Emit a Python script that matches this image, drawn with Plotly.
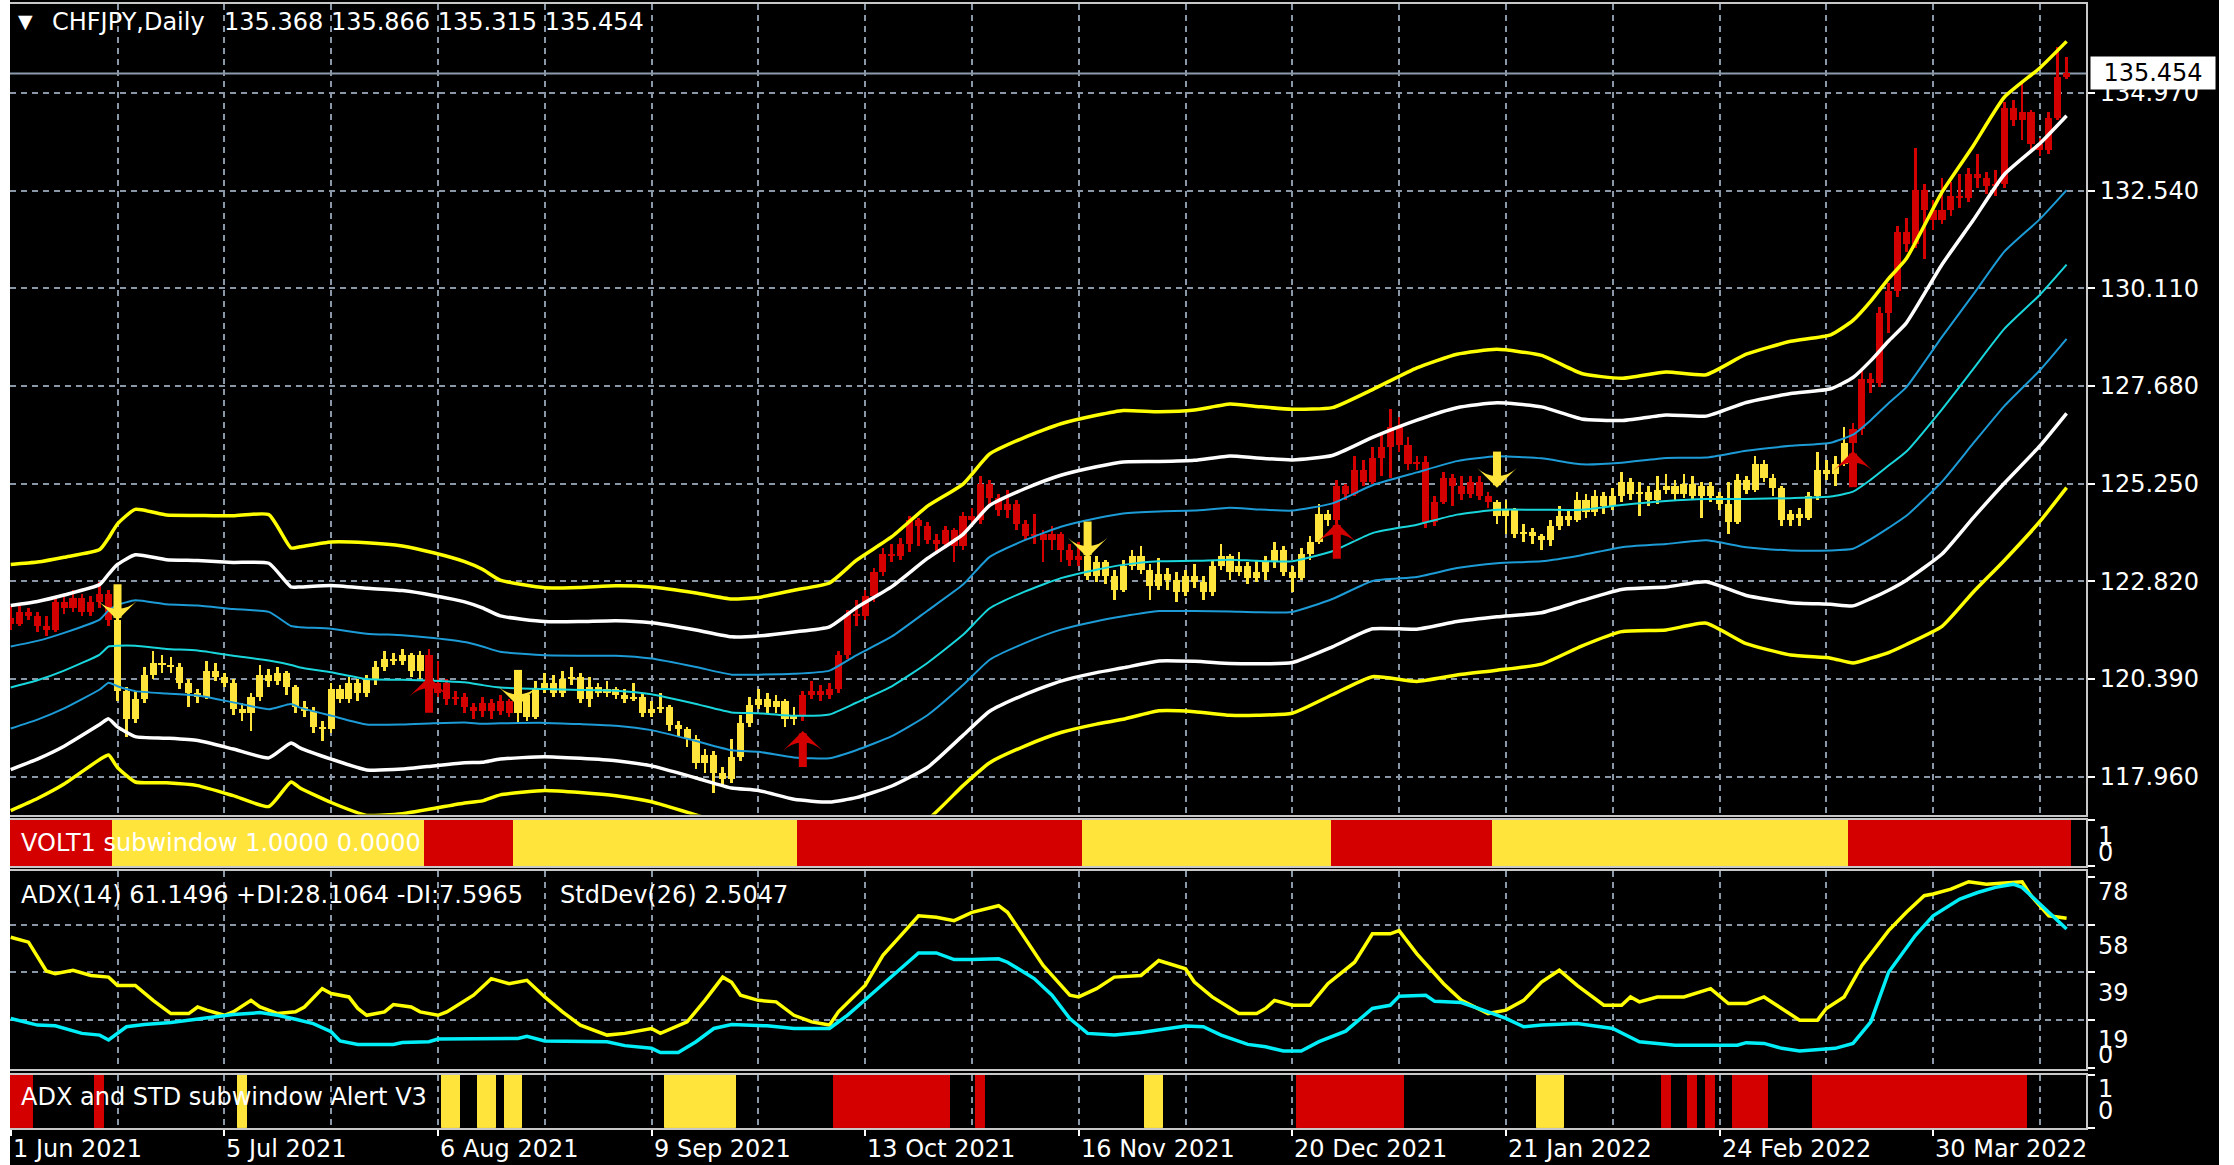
"""
CHFJPY daily chart in the MetaTrader style: candles coloured by the VOLT1 state,
seven envelope bands, a VOLT1 strip, ADX / StdDev lines and an alert strip.
"""

import plotly.graph_objects as go
from plotly.subplots import make_subplots

# ---------------------------------------------------------------- data ----
DATE_TICKS = [0, 24, 48, 72, 96, 120, 144, 168, 192, 216]
DATE_LABELS = ["1 Jun 2021", "5 Jul 2021", "6 Aug 2021", "9 Sep 2021", "13 Oct 2021",
               "16 Nov 2021", "20 Dec 2021", "21 Jan 2022", "24 Feb 2022", "30 Mar 2022"]
PRICE_TICKS = [117.96, 120.39, 122.82, 125.25, 127.68, 130.11, 132.54, 134.97]

FIRST_OPEN = 121.90
CLOSE = [
    121.75, 122.05, 121.95, 121.70, 121.60, 122.30, 122.15, 122.40, 122.05, 122.30,
    122.50, 121.85, 120.10, 119.40, 119.90, 120.50, 120.80, 120.75, 120.70, 120.30,
    120.05, 119.95, 120.60, 120.45, 120.30, 119.65, 119.55, 119.95, 120.50, 120.35,
    120.55, 120.20, 119.70, 119.60, 119.20, 119.15, 120.15, 119.90, 120.30, 120.05,
    120.40, 120.70, 120.90, 120.85, 121.00, 120.60, 121.00, 120.05, 120.30, 119.90,
    119.95, 119.70, 119.60, 119.80, 119.60, 119.85, 119.55, 120.00, 119.45, 120.15,
    120.30, 120.05, 120.40, 120.45, 119.90, 120.20, 120.05, 120.15, 120.00, 119.90,
    119.95, 119.55, 119.65, 119.70, 119.25, 119.15, 118.90, 118.30, 118.50, 118.05,
    117.90, 118.45, 119.30, 119.75, 119.90, 119.70, 119.85, 119.40, 119.50, 120.00,
    120.10, 120.00, 120.15, 121.00, 122.00, 121.95, 122.45, 123.05, 123.50, 123.45,
    123.75, 124.35, 124.20, 123.85, 123.75, 124.10, 123.70, 124.45, 124.35, 125.25,
    124.90, 124.60, 124.75, 124.25, 123.95, 124.00, 123.85, 124.00, 123.60, 123.35,
    123.45, 122.95, 123.30, 122.95, 122.60, 123.20, 123.45, 123.10, 122.70, 123.00,
    122.85, 122.55, 122.95, 122.80, 122.55, 123.20, 123.45, 123.05, 123.20, 122.90,
    123.05, 123.30, 123.60, 123.05, 122.90, 123.50, 123.80, 124.50, 124.35, 125.20,
    125.00, 125.60, 125.30, 125.90, 126.15, 126.65, 126.20, 125.75, 125.80, 124.30,
    124.80, 125.40, 125.20, 125.00, 125.30, 124.95, 124.80, 124.45, 124.60, 124.00,
    124.05, 123.95, 123.85, 124.20, 124.45, 124.35, 124.85, 124.55, 124.95, 124.70,
    124.95, 125.30, 125.00, 125.05, 124.85, 125.10, 125.20, 125.00, 125.25, 124.95,
    125.20, 124.95, 124.75, 124.30, 125.35, 125.10, 125.75, 125.40, 125.15, 124.35,
    124.50, 124.40, 124.95, 125.60, 125.50, 125.75, 126.25, 126.60, 127.85, 127.75,
    129.50, 130.05, 131.50, 131.20, 132.55, 132.05, 131.80, 132.05, 132.40, 132.35,
    132.95, 132.85, 132.65, 132.70, 134.60, 134.30, 134.50, 133.70, 133.55, 134.35,
    135.37, 135.454,
]
HIGH = [
    122.20, 122.20, 122.15, 122.05, 121.95, 122.45, 122.45, 122.60, 122.50, 122.45,
    122.80, 122.60, 122.55, 120.20, 120.10, 120.70, 121.10, 121.00, 120.95, 120.80,
    120.40, 120.15, 120.85, 120.80, 120.55, 120.40, 119.80, 120.05, 120.75, 120.65,
    120.70, 120.60, 120.25, 119.85, 119.70, 119.35, 120.30, 120.25, 120.45, 120.40,
    120.50, 120.85, 121.10, 121.05, 121.15, 121.05, 121.10, 121.15, 120.85, 120.40,
    120.10, 120.05, 119.80, 119.95, 119.90, 120.00, 119.90, 120.15, 120.05, 120.35,
    120.55, 120.50, 120.60, 120.70, 120.55, 120.45, 120.30, 120.35, 120.20, 120.15,
    120.30, 120.05, 119.85, 120.05, 119.75, 119.35, 119.20, 119.00, 118.65, 118.60,
    118.20, 118.90, 119.50, 119.95, 120.15, 120.05, 120.00, 119.90, 119.70, 120.10,
    120.35, 120.25, 120.30, 121.10, 122.10, 122.35, 122.60, 123.15, 123.65, 123.75,
    123.90, 124.45, 124.40, 124.30, 124.00, 124.20, 124.15, 124.55, 124.65, 125.45,
    125.35, 125.00, 125.10, 124.85, 124.35, 124.50, 124.10, 124.20, 124.05, 123.75,
    123.80, 123.55, 123.45, 123.35, 123.10, 123.35, 123.60, 123.70, 123.25, 123.40,
    123.15, 123.05, 123.10, 123.25, 122.95, 123.35, 123.75, 123.50, 123.55, 123.30,
    123.35, 123.45, 123.80, 123.70, 123.20, 123.65, 123.95, 124.75, 124.60, 125.35,
    125.25, 125.95, 125.85, 126.15, 126.45, 127.10, 126.90, 126.40, 125.95, 125.95,
    124.95, 125.55, 125.50, 125.45, 125.45, 125.45, 125.05, 124.85, 124.85, 124.65,
    124.25, 124.15, 124.00, 124.35, 124.70, 124.60, 125.05, 125.00, 125.10, 125.05,
    125.15, 125.55, 125.40, 125.30, 125.20, 125.45, 125.50, 125.35, 125.50, 125.45,
    125.30, 125.30, 125.05, 125.30, 125.50, 125.45, 125.95, 125.85, 125.50, 125.20,
    124.60, 124.65, 125.05, 126.05, 125.85, 125.95, 126.65, 126.75, 128.10, 128.00,
    129.65, 130.25, 131.65, 131.85, 133.60, 132.70, 132.30, 132.85, 132.75, 132.95,
    133.10, 133.45, 133.00, 133.05, 134.75, 134.80, 135.25, 134.55, 133.85, 134.50,
    136.10, 135.866,
]
LOW = [
    121.60, 121.70, 121.85, 121.55, 121.45, 121.55, 122.00, 122.05, 121.95, 121.95,
    122.15, 121.70, 119.85, 118.95, 119.30, 119.80, 120.40, 120.55, 120.55, 120.15,
    119.70, 119.80, 119.90, 120.35, 120.20, 119.50, 119.35, 119.10, 119.85, 120.20,
    120.25, 120.00, 119.55, 119.45, 119.05, 118.85, 119.05, 119.80, 119.80, 119.85,
    119.95, 120.25, 120.60, 120.75, 120.75, 120.45, 120.40, 119.95, 119.95, 119.75,
    119.75, 119.55, 119.40, 119.45, 119.40, 119.50, 119.45, 119.30, 119.35, 119.40,
    120.05, 119.95, 119.95, 120.25, 119.80, 119.70, 119.95, 119.95, 119.90, 119.80,
    119.85, 119.45, 119.45, 119.55, 119.10, 118.95, 118.70, 118.15, 118.05, 117.55,
    117.75, 117.80, 118.35, 119.20, 119.65, 119.55, 119.55, 119.20, 119.25, 119.35,
    119.90, 119.85, 119.90, 120.05, 120.90, 121.70, 121.85, 122.30, 122.95, 123.30,
    123.35, 123.55, 123.70, 123.75, 123.50, 123.65, 123.30, 123.60, 124.20, 124.25,
    124.70, 124.45, 124.40, 124.10, 123.85, 123.75, 123.30, 123.60, 123.30, 123.20,
    123.20, 122.85, 122.80, 122.75, 122.35, 122.55, 123.10, 123.00, 122.35, 122.60,
    122.60, 122.30, 122.45, 122.65, 122.35, 122.45, 123.10, 122.85, 122.95, 122.75,
    122.80, 122.85, 123.15, 122.95, 122.55, 122.85, 123.35, 123.75, 124.20, 124.25,
    124.85, 124.95, 125.20, 125.25, 125.45, 125.40, 126.05, 125.60, 125.60, 124.15,
    124.20, 124.75, 124.70, 124.85, 124.90, 124.85, 124.65, 124.25, 124.00, 123.90,
    123.80, 123.75, 123.60, 123.70, 124.10, 124.20, 124.30, 124.40, 124.45, 124.50,
    124.60, 124.80, 124.85, 124.45, 124.70, 124.75, 125.00, 124.85, 124.90, 124.85,
    124.40, 124.80, 124.60, 124.00, 124.25, 125.00, 125.05, 125.30, 124.95, 124.20,
    124.20, 124.20, 124.35, 124.85, 125.35, 125.20, 125.70, 126.00, 126.45, 127.50,
    127.65, 129.00, 129.90, 131.00, 131.10, 130.85, 131.55, 131.70, 131.90, 132.10,
    132.25, 132.60, 132.45, 132.40, 132.60, 134.15, 133.80, 133.55, 133.40, 133.45,
    134.30, 135.315,
]
LAST_PRICE = 135.454
OHLC_TEXT = "135.368 135.866 135.315 135.454"

# envelope: centre line and band step, read at sample bars
BAND_X = [0, 3, 6, 10, 11, 12, 14, 17.5, 21, 25, 29, 31.5, 32.5, 36, 40, 44, 47.5, 51, 53, 55,
          60, 64, 68, 72, 77, 81, 84, 88, 92, 95, 99, 103, 107, 110, 114, 118, 122, 125, 129, 133,
          137, 140, 144, 148.5, 153, 158, 162.5, 167, 172, 176.5, 181, 186, 190.5, 195, 200,
          204.5, 207, 209, 211, 213, 217, 220.5, 224, 228, 231]
BAND_MID = [120.18, 120.36, 120.60, 121.00, 121.20, 121.22, 121.22, 121.14, 121.10, 120.97,
            120.85, 120.74, 120.68, 120.56, 120.39, 120.37, 120.35, 120.31, 120.24, 120.18,
            120.14, 120.12, 120.10, 120.01, 119.77, 119.56, 119.54, 119.48, 119.51, 119.80,
            120.21, 120.79, 121.49, 122.15, 122.57, 122.90, 123.11, 123.23, 123.32, 123.33,
            123.36, 123.33, 123.32, 123.57, 124.02, 124.23, 124.48, 124.60, 124.60, 124.60,
            124.72, 124.82, 124.87, 124.87, 124.89, 124.93, 125.05, 125.35, 125.70, 126.05,
            127.10, 128.10, 129.10, 129.95, 130.70]
BAND_W = [1.02, 0.98, 0.94, 0.87, 0.90, 1.01, 1.13, 1.11, 1.12, 1.16,
          1.21, 0.97, 1.00, 1.08, 1.13, 1.11, 1.06, 1.00, 0.96, 0.89,
          0.84, 0.85, 0.87, 0.89, 0.92, 0.94, 0.96, 1.04, 1.09, 1.18,
          1.24, 1.30, 1.25, 1.28, 1.28, 1.28, 1.28, 1.28, 1.24, 1.25,
          1.29, 1.28, 1.26, 1.19, 1.19, 1.30, 1.33, 1.33, 1.28, 1.13,
          1.05, 1.07, 1.03, 1.20, 1.30, 1.34, 1.42, 1.48, 1.55, 1.60,
          1.80, 1.85, 1.92, 1.88, 1.85]

# VOLT1 state runs (first bar of each run)
VOLT_RUN_START = [0, 12, 47, 57, 89, 121, 149, 167, 207]
VOLT_RUN_STATE = ["red", "yellow", "red", "yellow", "red", "yellow", "red", "yellow", "red"]

# alert strip runs (first bar, last bar, colour)
ALERT_START = [0, 10, 26, 49, 53, 56, 74, 93, 109, 128, 145, 172, 186, 189, 191, 194, 203]
ALERT_END = [2, 10, 26, 50, 54, 57, 81, 105, 109, 129, 156, 174, 186, 189, 191, 197, 226]
ALERT_STATE = ["red", "red", "yellow", "yellow", "yellow", "yellow", "yellow", "red", "red",
               "yellow", "red", "yellow", "red", "red", "red", "red", "red"]

# ADX(14) and StdDev(26), read at sample bars
ADX_X = [0, 2, 4, 5, 7, 9, 11, 12, 14, 16, 18, 20, 21, 22, 24, 25, 27, 28, 30, 32,
         33, 35, 36, 38, 39, 40, 42, 43, 45, 46, 48, 49, 52, 54, 56, 58, 60, 62, 64, 67,
         69, 71, 72, 73, 76, 78, 80, 81, 82, 84, 86, 88, 90, 92, 93, 96, 98, 100, 102, 104,
         106, 108, 111, 112, 114, 116, 119, 120, 122, 124, 127, 129, 132, 133, 135, 138, 140,
         141, 142, 144, 146, 148, 151, 153, 155, 156, 158, 161, 163, 166, 168, 170, 172, 174,
         176, 179, 181, 182, 183, 185, 188, 191, 193, 195, 197, 199, 201, 203, 204, 206, 208,
         211, 213, 215, 216, 218, 220, 222, 225, 226, 227, 229, 231]
ADX_Y = [53.3, 51.3, 39.5, 38.4, 39.8, 37.7, 37.0, 33.6, 33.6, 27.5, 22.1, 22.1, 24.8, 23.5,
         21.4, 22.8, 27.5, 24.8, 22.1, 22.8, 24.8, 32.3, 30.3, 28.9, 24.2, 21.4, 22.8, 25.8,
         24.8, 22.8, 21.4, 22.8, 29.6, 36.4, 34.3, 35.7, 28.9, 22.8, 17.4, 13.3, 14.0, 15.3,
         16.0, 14.0, 18.7, 27.5, 37.0, 34.9, 29.6, 27.5, 26.9, 21.4, 18.7, 17.4, 22.8, 33.6,
         45.9, 54.0, 62.1, 61.5, 60.1, 63.5, 66.2, 63.5, 52.6, 41.8, 29.6, 28.9, 32.3, 37.0,
         37.7, 43.8, 40.4, 35.0, 28.9, 22.1, 22.1, 24.2, 27.5, 25.5, 25.5, 34.3, 43.1, 54.7,
         54.7, 56.0, 46.5, 34.3, 27.5, 22.1, 23.5, 27.5, 35.0, 39.8, 33.6, 25.5, 25.5, 28.9,
         26.9, 28.9, 28.9, 32.3, 26.2, 26.2, 28.9, 24.2, 19.4, 19.4, 24.2, 28.9, 41.8, 56.0,
         63.5, 70.3, 71.0, 73.0, 76.0, 75.0, 75.7, 76.0, 70.3, 62.1, 61.1]
STD_X = [0, 3, 5, 8, 10, 11, 13, 15, 18, 20, 23, 25, 28, 30, 32, 34, 36, 37, 39, 43,
         44, 47, 48, 55, 57, 58, 60, 67, 69, 72, 73, 75, 77, 79, 81, 85, 88, 92, 94, 97,
         100, 102, 104, 106, 108, 111, 112, 115, 117, 119, 121, 124, 127, 130, 132, 134, 136,
         139, 141, 143, 145, 147, 150, 153, 155, 156, 159, 160, 163, 166, 168, 170, 172, 176,
         180, 183, 185, 187, 194, 195, 197, 199, 201, 203, 205, 207, 209, 211, 214, 216, 219,
         221, 223, 225, 226, 228, 231]
STD_Y = [20.1, 17.4, 17.1, 14.0, 13.3, 11.3, 16.7, 17.6, 18.5, 19.4, 20.8, 21.7, 22.5, 21.4,
         19.8, 18.0, 14.7, 10.9, 9.5, 9.5, 10.3, 10.6, 11.7, 11.7, 11.9, 12.8, 10.9, 10.6, 9.0,
         7.9, 6.2, 6.2, 10.6, 16.0, 17.6, 17.1, 16.0, 16.0, 21.4, 30.9, 40.4, 46.9, 46.9, 44.2,
         44.2, 44.5, 43.1, 36.4, 29.6, 20.1, 14.0, 13.3, 14.4, 16.0, 17.0, 16.7, 13.3, 9.5, 8.5,
         6.8, 6.8, 10.6, 14.9, 24.2, 25.5, 29.2, 29.6, 27.1, 26.6, 22.8, 20.1, 16.7, 17.4, 18.0,
         16.0, 10.6, 9.9, 9.2, 9.2, 10.2, 9.9, 7.9, 6.8, 7.2, 7.9, 9.9, 18.7, 39.0, 54.0, 62.1,
         68.9, 71.6, 73.7, 75.0, 73.7, 66.9, 56.7]
ADX_TICKS = [19.5, 39, 58.5]
ADX_LABELS = ["78", "58", "39", "19", "0"]

# signal arrows (bar, tip price, direction)
ARROW_X = [12, 47, 57, 89, 121, 149, 167, 207]
ARROW_TIP = [121.85, 120.45, 119.72, 119.10, 123.41, 124.28, 125.15, 126.06]
ARROW_DIR = ["down", "up", "down", "up", "down", "up", "down", "up"]

# ---------------------------------------------------------------- style ---
COLORS = {"red": "#D40000", "yellow": "#FFE53B"}
GRID = "#8A97A6"
FRAME = "#C8C8C8"
FONT = "DejaVu Sans"

W, H = 2234, 1165
LEFT, RIGHT_EDGE = 10, 2086          # plot area columns
TOP, BOTTOM = 2, 1128                # plot area rows


def py(row):
    return (BOTTOM - row) / (BOTTOM - TOP)


def px(col):
    return (col - LEFT) / (RIGHT_EDGE - LEFT)


n = len(CLOSE)
OPEN = [FIRST_OPEN] + CLOSE[:-1]      # daily FX bars open at the prior close

state = []
for k, start in enumerate(VOLT_RUN_START):
    end = VOLT_RUN_START[k + 1] if k + 1 < len(VOLT_RUN_START) else n
    state += [VOLT_RUN_STATE[k]] * (end - start)

fig = make_subplots(rows=4, cols=1, shared_xaxes=True, vertical_spacing=0.004)

# candles: wick bar + body bar, coloured by state (both directions filled alike)
for key in ("yellow", "red"):
    idx = [i for i in range(n) if state[i] == key]
    c = COLORS[key]
    fig.add_trace(go.Bar(
        x=idx, base=[LOW[i] for i in idx], y=[HIGH[i] - LOW[i] for i in idx], width=0.3,
        marker=dict(color=c, line=dict(width=0)), showlegend=False, hoverinfo="skip",
    ), row=1, col=1)
    fig.add_trace(go.Bar(
        x=idx, base=[min(OPEN[i], CLOSE[i]) for i in idx],
        y=[max(abs(CLOSE[i] - OPEN[i]), 0.04) for i in idx], width=0.8,
        marker=dict(color=c, line=dict(width=0)), showlegend=False, hoverinfo="skip",
    ), row=1, col=1)

# envelope lines
band_styles = [(3, "#FFFF00", 3.5), (2, "#FFFFFF", 3.5), (1, "#1C9BD6", 2),
               (0, "#19D6DC", 2), (-1, "#1C9BD6", 2), (-2, "#FFFFFF", 3.5), (-3, "#FFFF00", 3.5)]
for k, color, width in band_styles:
    fig.add_trace(go.Scatter(
        x=BAND_X, y=[m + k * w for m, w in zip(BAND_MID, BAND_W)],
        mode="lines", line=dict(color=color, width=width, shape="spline", smoothing=0.5),
        showlegend=False, hoverinfo="skip",
    ), row=1, col=1)

# arrows: wide head with its tip on the signal price, stem behind it
for d in ("down", "up"):
    ax = [x for x, dd in zip(ARROW_X, ARROW_DIR) if dd == d]
    tips = [t for t, dd in zip(ARROW_TIP, ARROW_DIR) if dd == d]
    color = COLORS["yellow"] if d == "down" else COLORS["red"]
    step = 0.48 if d == "down" else -0.48
    fig.add_trace(go.Scatter(
        x=ax, y=[t + step for t in tips], mode="markers",
        marker=dict(symbol="line-ns", size=24, line=dict(color=color, width=8)),
        showlegend=False, hoverinfo="skip"), row=1, col=1)
    fig.add_trace(go.Scatter(
        x=ax, y=tips, mode="markers",
        marker=dict(symbol="arrow-wide", angle=180 if d == "down" else 0, size=28,
                    color=color, line=dict(width=0)),
        showlegend=False, hoverinfo="skip"), row=1, col=1)

# VOLT1 strip
fig.add_trace(go.Bar(
    x=list(range(n)), y=[1] * n, width=1,
    marker=dict(color=[COLORS[s] for s in state],
                line=dict(color=[COLORS[s] for s in state], width=1)),
    showlegend=False, hoverinfo="skip"), row=2, col=1)

# ADX / StdDev
fig.add_trace(go.Scatter(x=ADX_X, y=ADX_Y, mode="lines",
                         line=dict(color="#FFFF00", width=3.5),
                         showlegend=False, hoverinfo="skip"), row=3, col=1)
fig.add_trace(go.Scatter(x=STD_X, y=STD_Y, mode="lines",
                         line=dict(color="#00EEF8", width=3.5),
                         showlegend=False, hoverinfo="skip"), row=3, col=1)

# alert strip
ax_x, ax_c = [], []
for s, e, st in zip(ALERT_START, ALERT_END, ALERT_STATE):
    for i in range(s, e + 1):
        ax_x.append(i)
        ax_c.append(COLORS[st])
fig.add_trace(go.Bar(
    x=ax_x, y=[1] * len(ax_x), width=1,
    marker=dict(color=ax_c, line=dict(color=ax_c, width=1)),
    showlegend=False, hoverinfo="skip"), row=4, col=1)

# ---------------------------------------------------------------- axes ----
x_common = dict(
    range=[-0.08, 233.18], tickmode="array", tickvals=DATE_TICKS, showticklabels=False,
    showgrid=True, gridcolor=GRID, griddash="6px,5px", gridwidth=1.5,
    minor=dict(tickmode="array", tickvals=[v + 12 for v in DATE_TICKS],
               showgrid=True, gridcolor=GRID, griddash="6px,5px", gridwidth=1.5, ticks=""),
    showline=True, linecolor=FRAME, linewidth=2, mirror=True, zeroline=False,
    rangeslider=dict(visible=False), ticks="",
)
for k in range(1, 5):
    fig.update_xaxes(**x_common, row=k, col=1)
fig.update_xaxes(ticks="outside", ticklen=6, tickwidth=2, tickcolor="#FFFFFF", row=4, col=1)

y_common = dict(side="right", showline=True, linecolor=FRAME, linewidth=2, mirror=True,
                zeroline=False, ticks="outside", ticklen=7, tickwidth=2, tickcolor="#FFFFFF")
fig.update_yaxes(**y_common, domain=[py(814), 1.0], range=[117.02, 137.18],
                 tickmode="array", tickvals=PRICE_TICKS,
                 ticktext=[f"{v:.3f}" for v in PRICE_TICKS],
                 tickfont=dict(size=24, color="#FFFFFF", family=FONT),
                 showgrid=True, gridcolor=GRID, griddash="6px,5px", gridwidth=1.5,
                 row=1, col=1)
fig.update_yaxes(**y_common, domain=[py(866), py(819)], range=[0, 1],
                 tickmode="array", tickvals=[0, 1], showticklabels=False, showgrid=False,
                 row=2, col=1)
fig.update_yaxes(**y_common, domain=[py(1069), py(871)], range=[-0.6, 80.2],
                 tickmode="array", tickvals=ADX_TICKS, showticklabels=False,
                 showgrid=True, gridcolor=GRID, griddash="6px,5px", gridwidth=1.5,
                 minor=dict(tickmode="array", tickvals=[0, 78], ticks="outside", ticklen=7,
                            tickwidth=2, tickcolor="#FFFFFF", showgrid=False),
                 row=3, col=1)
fig.update_yaxes(**y_common, domain=[0.0, py(1075)], range=[0, 1],
                 tickmode="array", tickvals=[0, 1], showticklabels=False, showgrid=False,
                 row=4, col=1)

# bid line
fig.add_shape(type="line", xref="x domain", yref="y", x0=0, x1=1,
              y0=LAST_PRICE, y1=LAST_PRICE, line=dict(color="#8C9BAD", width=2), layer="below")

# white window strips at left and right
for c0, c1 in ((0, LEFT), (2219, W)):
    fig.add_shape(type="rect", xref="paper", yref="paper", x0=px(c0), x1=px(c1),
                  y0=-0.05, y1=1.05, fillcolor="#FFFFFF", line=dict(width=0), layer="above")

# ---------------------------------------------------------------- text ----
def label(text, col, row, size=24, color="#FFFFFF", **kw):
    fig.add_annotation(text=text, x=px(col), y=py(row), xref="paper", yref="paper",
                       showarrow=False, xanchor="left", yanchor="middle",
                       font=dict(family=FONT, size=size, color=color), **kw)


label("▼", 16, 19, size=19)
label("CHFJPY,Daily", 50, 20)
label(OHLC_TEXT, 222, 20)
label("VOLT1 subwindow 1.0000 0.0000", 19, 842)
label("ADX(14) 61.1496 +DI:28.1064 -DI:7.5965", 19, 895)
label("StdDev(26) 2.5047", 558, 895)
label("ADX and STD subwindow Alert V3", 19, 1097)

for txt, row in zip(["1", "0"], [835, 853]):
    label(txt, 2096, row)
for txt, row in zip(ADX_LABELS, [892, 946, 993, 1040, 1055]):
    label(txt, 2096, row)
for txt, row in zip(["1", "0"], [1089, 1111]):
    label(txt, 2096, row)

for pos, text in zip(DATE_TICKS, DATE_LABELS):
    fig.add_annotation(text=text, x=pos, xref="x4", y=py(1149), yref="paper",
                       showarrow=False, xanchor="left", yanchor="middle",
                       font=dict(family=FONT, size=24, color="#FFFFFF"))

fig.add_annotation(text=f"{LAST_PRICE:.3f}", x=px(2090), y=LAST_PRICE, xref="paper", yref="y",
                   showarrow=False, xanchor="left", yanchor="middle", bgcolor="#FFFFFF",
                   borderpad=2, width=120, font=dict(family=FONT, size=24, color="#000000"))

fig.update_layout(
    width=W, height=H,
    margin=dict(l=LEFT, r=W - RIGHT_EDGE, t=TOP, b=H - BOTTOM),
    paper_bgcolor="#000000", plot_bgcolor="#000000",
    font=dict(family=FONT, size=24, color="#FFFFFF"),
    showlegend=False, barmode="overlay", bargap=0,
)

# the page body's default 8px margin would push the figure off the window
fig.write_html("out.html", config={"displayModeBar": False},
               post_script="document.body.style.margin='0';document.body.style.overflow='hidden';")
